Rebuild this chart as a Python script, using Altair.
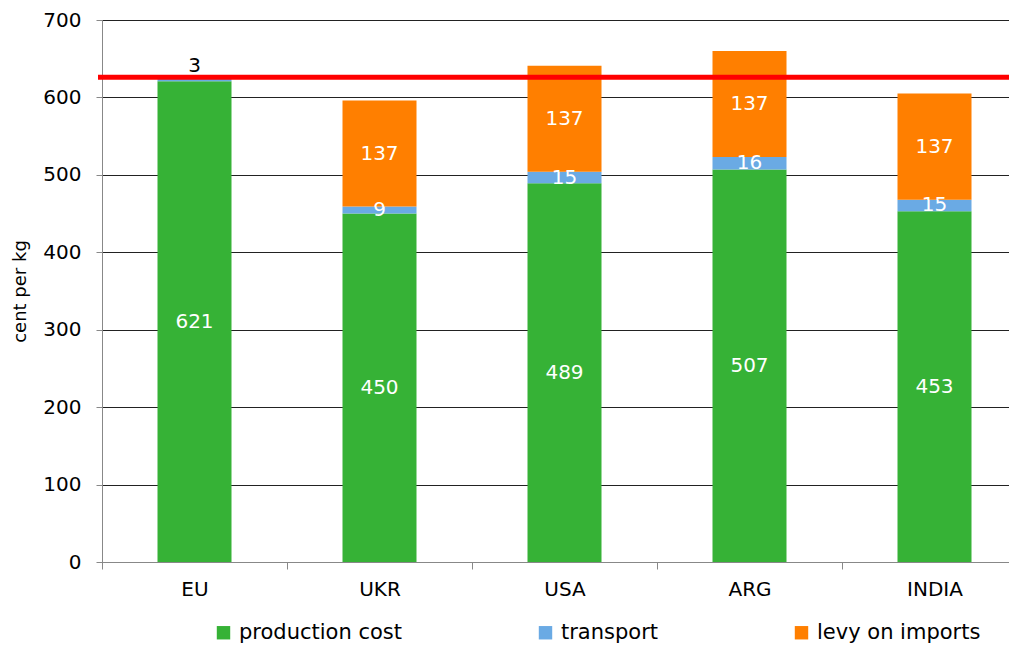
import altair as alt
import pandas as pd

countries = ["EU", "UKR", "USA", "ARG", "INDIA"]
production_cost = [621, 450, 489, 507, 453]
transport = [3, 9, 15, 16, 15]
levy_on_imports = [0, 137, 137, 137, 137]
series_names = ["production cost", "transport", "levy on imports"]
series_colors = ["#36B236", "#6AAAE4", "#FF7F00"]
reference_level = [626]
y_ticks = [0, 100, 200, 300, 400, 500, 600, 700]

rows = []
for i, c in enumerate(countries):
    for j, vals in enumerate([production_cost, transport, levy_on_imports]):
        rows.append({"country": c, "series": series_names[j], "order": j, "value": vals[i]})
df = pd.DataFrame(rows)
ref_df = pd.DataFrame({"level": reference_level})

FONT = "DejaVu Sans"

base = (
    alt.Chart(df)
    .transform_filter("datum.value > 0")
    .transform_stack(stack="value", groupby=["country"], sort=[alt.SortField("order")], as_=["y0", "y1"])
    .transform_calculate(mid="(datum.y0 + datum.y1) / 2")
)

x_scale = alt.Scale(paddingInner=0, paddingOuter=0)
x_enc = alt.X(
    "country:N",
    sort=countries,
    title=None,
    scale=x_scale,
    axis=alt.Axis(
        labelAngle=0, tickBand="extent", tickSize=7, labelPadding=10,
        domainColor="#888888", tickColor="#888888", labelFontSize=20,
        labelColor="#000000", labelFont=FONT, grid=False,
    ),
)
y_scale = alt.Scale(domain=[0, 700], nice=False)
y_axis = alt.Axis(
    values=y_ticks, title="cent per kg", titleFontSize=18, titleFont=FONT,
    titleFontWeight="normal", titleColor="#000000", titlePadding=13,
    labelFontSize=20, labelFont=FONT, labelColor="#000000", labelPadding=15,
    tickSize=6, tickColor="#888888", domainColor="#888888",
    grid=True, gridColor="#222222", gridWidth=1,
)

bars = base.mark_bar(width=alt.RelativeBandSize(0.4)).encode(
    x=x_enc,
    y=alt.Y("y0:Q", scale=y_scale, axis=y_axis),
    y2="y1:Q",
    color=alt.Color(
        "series:N",
        scale=alt.Scale(domain=series_names, range=series_colors),
        sort=series_names,
        legend=alt.Legend(
            title=None, orient="none", direction="horizontal",
            legendX=111, legendY=602, symbolType="square", symbolSize=180,
            symbolStrokeWidth=0, symbolOpacity=1, columnPadding=132,
            labelFontSize=21, labelFont=FONT, labelColor="#000000",
            labelOffset=5, padding=0, labelLimit=400,
        ),
    ),
)

inner_labels = base.transform_filter("datum.value >= 5").mark_text(
    color="white", fontSize=20, font=FONT, baseline="middle"
).encode(
    x=alt.X("country:N", sort=countries, scale=x_scale),
    y=alt.Y("mid:Q", scale=y_scale),
    text="value:Q",
)

top_labels = base.transform_filter("datum.value < 5").mark_text(
    color="black", fontSize=20, font=FONT, baseline="alphabetic", dy=-7
).encode(
    x=alt.X("country:N", sort=countries, scale=x_scale),
    y=alt.Y("y1:Q", scale=y_scale),
    text="value:Q",
)

ref_line = alt.Chart(ref_df).mark_rule(color="#FF0000", strokeWidth=5).encode(
    y=alt.Y("level:Q", scale=y_scale),
    x=alt.value(-4),
    x2=alt.value(925),
)

chart = (
    alt.layer(bars, inner_labels, top_labels, ref_line)
    .properties(
        width=925, height=542,
        autosize=alt.AutoSizeParams(type="none"),
        padding={"left": 94, "top": 12, "right": -18, "bottom": 82},
    )
    .configure_view(stroke=None)
    .configure(font=FONT)
)

chart.save("out.html", embed_options={"renderer": "svg", "actions": False})
